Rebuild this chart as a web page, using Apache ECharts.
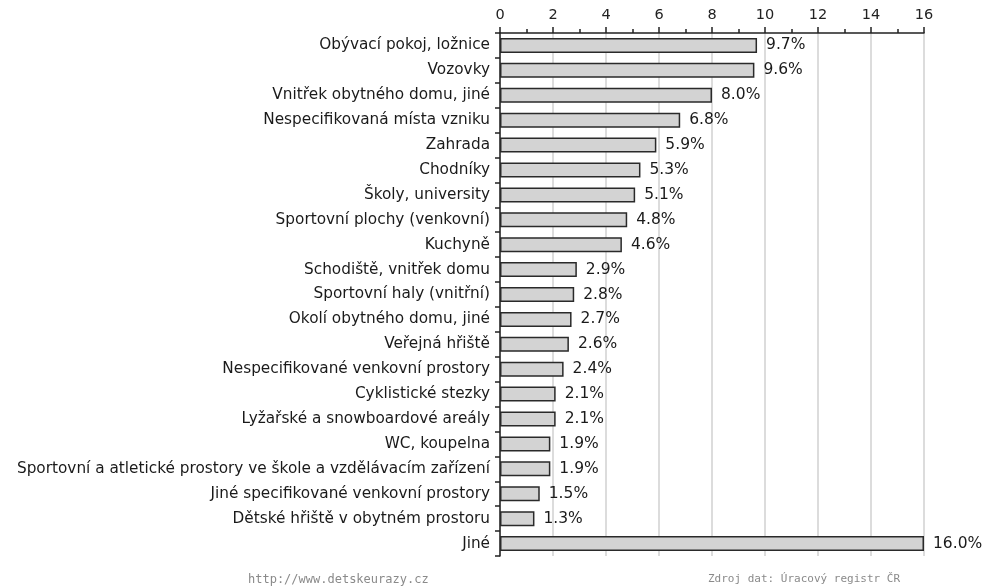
<!DOCTYPE html>
<html>
<head>
<meta charset="utf-8">
<script src="https://cdn.jsdelivr.net/npm/echarts@6/dist/echarts.min.js"></script>
<style>html,body{margin:0;padding:0;background:#fff}#chart{width:984px;height:588px}</style>
</head>
<body>
<div id="chart"></div>
<script>
// Místa vzniku úrazů (podíl v %)
const categories = [
  'Obývací pokoj, ložnice',
  'Vozovky',
  'Vnitřek obytného domu, jiné',
  'Nespecifikovaná místa vzniku',
  'Zahrada',
  'Chodníky',
  'Školy, university',
  'Sportovní plochy (venkovní)',
  'Kuchyně',
  'Schodiště, vnitřek domu',
  'Sportovní haly (vnitřní)',
  'Okolí obytného domu, jiné',
  'Veřejná hřiště',
  'Nespecifikované venkovní prostory',
  'Cyklistické stezky',
  'Lyžařské a snowboardové areály',
  'WC, koupelna',
  'Sportovní a atletické prostory ve škole a vzdělávacím zařízení',
  'Jiné specifikované venkovní prostory',
  'Dětské hřiště v obytném prostoru',
  'Jiné'
];
const values = [9.7, 9.6, 8.0, 6.8, 5.9, 5.3, 5.1, 4.8, 4.6, 2.9, 2.8, 2.7, 2.6, 2.4, 2.1, 2.1, 1.9, 1.9, 1.5, 1.3, 16.0];
const axisMin = 0, axisMax = 16, axisStep = 2;
const footerLeft = 'http://www.detskeurazy.cz';
const footerRight = 'Zdroj dat: Úracový registr ČR';

const chart = echarts.init(document.getElementById('chart'), null, {renderer: 'canvas'});
chart.setOption({
  animation: false,
  backgroundColor: '#fff',
  textStyle: {fontFamily: 'DejaVu Sans'},
  grid: {left: 500, right: 60, top: 33, bottom: 32, containLabel: false},
  xAxis: {
    type: 'value', position: 'top', min: axisMin, max: axisMax, interval: axisStep,
    axisLine: {show: true, lineStyle: {color: '#222', width: 1.5}},
    axisTick: {show: true, length: 6, lineStyle: {color: '#222', width: 1.5}},
    minorTick: {show: true, splitNumber: 2, length: 4, lineStyle: {color: '#222', width: 1.5}},
    axisLabel: {color: '#222', fontSize: 14.5, margin: 10, fontFamily: 'DejaVu Sans'},
    splitLine: {show: true, lineStyle: {color: '#d0d0d0', width: 1.5}}
  },
  yAxis: {
    type: 'category', data: categories, inverse: true,
    axisLine: {show: true, lineStyle: {color: '#222', width: 1.5}},
    axisTick: {show: true, length: 5, lineStyle: {color: '#222', width: 1.5}},
    axisLabel: {color: '#1a1a1a', fontSize: 15.3, margin: 10, fontFamily: 'DejaVu Sans'}
  },
  series: [{
    type: 'bar', data: values, barWidth: 15,
    itemStyle: {color: '#d3d3d3', borderColor: '#2a2a2a', borderWidth: 1.5},
    label: {
      show: true, position: 'right', distance: 9, color: '#1a1a1a', fontSize: 15.5,
      fontFamily: 'DejaVu Sans',
      formatter: p => p.value.toFixed(1) + '%'
    }
  }],
  graphic: [
    {type: 'text', left: 248, top: 574, style: {text: footerLeft, fill: '#8a8a8a', font: '12px "DejaVu Sans Mono"'}},
    {type: 'text', left: 708, top: 574, style: {text: footerRight, fill: '#8a8a8a', font: '11px "DejaVu Sans Mono"'}}
  ]
});
</script>
</body>
</html>
